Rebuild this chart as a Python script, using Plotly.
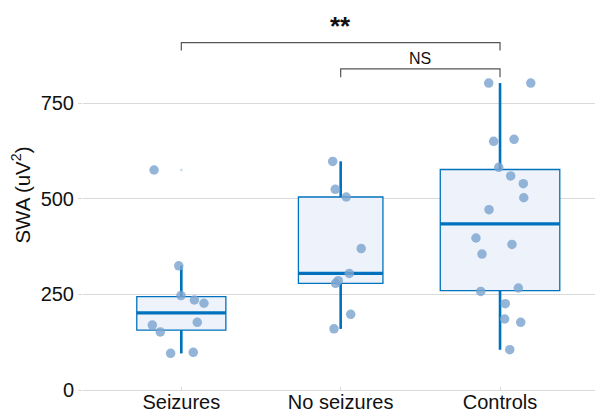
import numpy as np
import plotly.graph_objects as go

categories = ["Seizures", "No seizures", "Controls"]

seizures = [575.6, 325, 247, 235.5, 227, 177, 170, 152, 96, 98.6]
seizures_jitter = [-0.171, -0.016, -0.002, 0.082, 0.142, 0.100, -0.182, -0.132, -0.067, 0.075]

no_seizures = [598, 525, 505, 370, 305, 286, 279, 198, 160]
no_seizures_jitter = [-0.050, -0.034, 0.035, 0.129, 0.054, -0.015, -0.032, 0.063, -0.042]

controls = [803, 803, 650.6, 655.8, 582.6, 560, 539.8, 503, 471.8, 397.7,
            381, 355.6, 258, 266.9, 225.9, 185.8, 177, 105.5]
controls_jitter = [-0.071, 0.193, -0.040, 0.088, -0.008, 0.067, 0.146, 0.149, -0.069, -0.151,
                   0.075, -0.113, -0.121, 0.115, 0.033, 0.029, 0.130, 0.061]

yticks = [0, 250, 500, 750]

groups = [seizures, no_seizures, controls]
jitters = [seizures_jitter, no_seizures_jitter, controls_jitter]

BLUE = "#0072BD"
FILL = "#EEF3FB"
DOT = "rgba(125,165,208,0.82)"

fig = go.Figure()
nmax = max(len(g) for g in groups)
for i, (vals, jit) in enumerate(zip(groups, jitters)):
    v = np.array(vals, dtype=float)
    w = 0.75 * np.sqrt(len(v) / nmax)
    q1, med, q3 = np.percentile(v, [25, 50, 75])
    iqr = q3 - q1
    lo = v[v >= q1 - 1.5 * iqr].min()
    hi = v[v <= q3 + 1.5 * iqr].max()
    outl = v[(v < lo) | (v > hi)]
    fig.add_trace(go.Box(
        x=[i], q1=[q1], median=[med], q3=[q3], lowerfence=[lo], upperfence=[hi],
        width=w, fillcolor=FILL, line=dict(color=BLUE, width=1.3), whiskerwidth=0,
        boxpoints=False, showlegend=False, hoverinfo="skip"))
    fig.add_trace(go.Scatter(x=[i, i, None, i, i], y=[q3, hi, None, q1, lo],
                             mode="lines", line=dict(color=BLUE, width=2.6),
                             showlegend=False, hoverinfo="skip"))
    fig.add_trace(go.Scatter(x=[i - w / 2, i + w / 2], y=[med, med],
                             mode="lines", line=dict(color=BLUE, width=3.2),
                             showlegend=False, hoverinfo="skip"))
    if len(outl):
        fig.add_trace(go.Scatter(x=[i] * len(outl), y=outl, mode="markers",
                                 marker=dict(color="#CFE2F3", size=3, line=dict(width=0)),
                                 showlegend=False, hoverinfo="skip"))

for i, (vals, jit) in enumerate(zip(groups, jitters)):
    fig.add_trace(go.Scatter(
        x=[i + j for j in jit], y=vals, mode="markers",
        marker=dict(color=DOT, size=9.5, line=dict(width=0)),
        showlegend=False, hoverinfo="skip"))


def bracket(x0, x1, ytop, ybot, text, size, bold, ytext):
    fig.add_shape(type="path",
                  path=f"M {x0},{ybot} L {x0},{ytop} L {x1},{ytop} L {x1},{ybot}",
                  line=dict(color="#555555", width=1.2), xref="x", yref="y")
    fig.add_annotation(x=(x0 + x1) / 2, y=ytext, text=f"<b>{text}</b>" if bold else text,
                       showarrow=False, xref="x", yref="y",
                       font=dict(size=size, color="#111111"))


bracket(0, 2, 909, 888, "**", 26, True, 952)
bracket(1, 2, 840, 818, "NS", 16, False, 867)

font_family = "Liberation Sans, Arial, sans-serif"
fig.update_layout(
    width=595, height=411,
    margin=dict(l=83, r=0, t=0, b=21),
    paper_bgcolor="white", plot_bgcolor="white",
    boxmode="overlay",
    font=dict(family=font_family, size=20, color="#111111"),
    xaxis=dict(range=[-0.617, 2.596], tickvals=[0, 1, 2], ticktext=categories,
               showgrid=False, zeroline=False, showline=True, linecolor="#D9D9D9",
               linewidth=1, ticks="inside", ticklen=3, tickcolor="#D9D9D9",
               tickfont=dict(size=20), ticklabelstandoff=-6, automargin=False),
    yaxis=dict(range=[0, 1020.4], tickvals=yticks, showgrid=True, gridcolor="#D9D9D9",
               gridwidth=1, zeroline=False, showline=False, ticks="outside",
               ticklen=4, tickcolor="#D9D9D9", tickfont=dict(size=20),
               title=dict(text="SWA (uV<sup>2</sup>)", font=dict(size=20.5), standoff=4),
               automargin=False),
)

fig.write_html("out.html",
               config={"displayModeBar": False},
               post_script="document.body.style.margin='0';document.body.style.padding='0';")
